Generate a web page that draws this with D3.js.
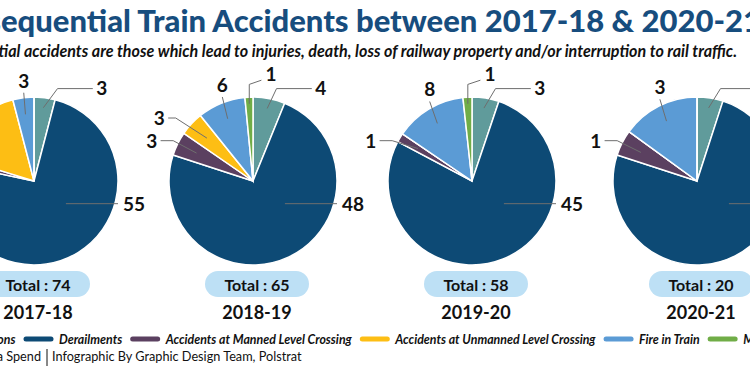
<!DOCTYPE html>
<html>
<head>
<meta charset="utf-8">
<script src="https://cdn.jsdelivr.net/npm/d3@7"></script>
<style>
  body { margin: 0; background: #fff; }
  svg { display: block; font-family: Lato, "Open Sans", sans-serif; }
</style>
</head>
<body>
<script>
const years = ["2017-18", "2018-19", "2019-20", "2020-21"];
const categories = ["Collisions", "Derailments", "Accidents at Manned Level Crossing",
    "Accidents at Unmanned Level Crossing", "Fire in Train", "Miscellaneous"];
const collisions = [3, 4, 3, 1];
const derailments = [55, 48, 45, 15];
const mannedLC = [1, 3, 1, 1];
const unmannedLC = [12, 3, 0, 0];
const fireInTrain = [3, 6, 8, 3];
const miscellaneous = [0, 1, 1, 0];
const totals = [74, 65, 58, 20];

const series = [collisions, derailments, mannedLC, unmannedLC, fireInTrain, miscellaneous];
const colors = ["#609b9b", "#0d4a75", "#5b4060", "#fdbe14", "#5b9bd5", "#70ad47"];

const width = 750;
const height = 375;

const svg = d3.select("body")
    .append("svg")
    .attr("width", width)
    .attr("height", height);

const color = d3.scaleOrdinal().domain(categories).range(colors);

//centre of each year's pie (the page is a crop of a wider infographic)
const panelX = d3.scaleOrdinal().domain(years).range([34, 253, 472, 697]);
const cy = 181;
const r = 84;

//title, pushed left so that the first letters fall off the page like the original
const titleFont = "31px";
const title = svg.append("text")
    .attr("y", 32)
    .attr("font-size", titleFont)
    .attr("font-weight", 900)
    .attr("fill", "#174d7e")
    .text("Consequential Train Accidents between 2017-18 & 2020-21");
const probe = svg.append("text").attr("font-size", titleFont).attr("font-weight", 900).text("Cons");
const consW = probe.node().getComputedTextLength();
probe.remove();
title.attr("x", 1 - consW);

svg.append("text")
    .attr("x", 737)
    .attr("y", 57)
    .attr("text-anchor", "end")
    .attr("font-size", "16.1px")
    .attr("font-weight", 700)
    .attr("font-style", "italic")
    .attr("fill", "#111")
    .text("Consequential accidents are those which lead to injuries, death, loss of railway property and/or interruption to rail traffic.");

const pie = d3.pie().sort(null).value(function(d) { return d.value; });
const arc = d3.arc().innerRadius(0).outerRadius(r);

function polar(cx, a, rad) {
    return [cx + rad * Math.sin(a), cy - rad * Math.cos(a)];
}

//leader line + label placement, one rule per category
function labelLayout(idx, cx, mid) {
    const top = 2 * Math.PI;
    if (idx === 0) {
        const y = cy - 1.1 * r;
        return { pts: [polar(cx, mid, 0.88 * r), [cx + 0.28 * r, y], [cx + 0.7 * r, y]],
                 tx: cx + 0.74 * r, ty: y, anchor: "start" };
    }
    if (idx === 1) {
        const y = cy + 0.27 * r;
        return { pts: [[cx + 0.38 * r, y], [cx + 1.0 * r, y]],
                 tx: cx + 1.06 * r, ty: y, anchor: "start" };
    }
    if (idx === 2) {
        const y = cy - 0.48 * r;
        return { pts: [[cx - 1.1 * r, y], [cx - 0.95 * r, y], polar(cx, mid, 0.75 * r)],
                 tx: cx - 1.14 * r, ty: y, anchor: "end" };
    }
    if (idx === 3) {
        const y = cy - 0.75 * r;
        return { pts: [[cx - 1.01 * r, y], [cx - 0.92 * r, y], polar(cx, mid, 0.75 * r)],
                 tx: cx - 1.05 * r, ty: y, anchor: "end" };
    }
    if (idx === 4) {
        const a = top - (top - mid) * 0.8;
        const p = polar(cx, a, 1.2 * r);
        return { pts: [polar(cx, mid, 0.8 * r), [p[0], p[1] + 12]],
                 tx: p[0], ty: p[1], anchor: "middle" };
    }
    const inner = polar(cx, mid, 0.92 * r);
    return { pts: [inner, [inner[0], cy - 1.15 * r], [cx + 0.1 * r, cy - 1.2 * r]],
             tx: cx + 0.15 * r, ty: cy - 1.27 * r, anchor: "start" };
}

years.forEach(function(year, yi) {
    const cx = panelX(year);
    const slices = categories.map(function(c, i) {
        return { cat: c, idx: i, value: series[i][yi] };
    });
    const arcs = pie(slices);

    const g = svg.append("g").attr("transform", "translate(" + cx + "," + cy + ")");
    g.selectAll("path")
        .data(arcs)
        .enter()
        .append("path")
        .attr("d", arc)
        .attr("fill", function(d) { return color(d.data.cat); })
        .attr("stroke", "#fff")
        .attr("stroke-width", 1.5);

    //labels
    arcs.filter(function(d) { return d.data.value > 0; }).forEach(function(d) {
        const mid = (d.startAngle + d.endAngle) / 2;
        const lay = labelLayout(d.data.idx, cx, mid);
        svg.append("path")
            .attr("d", d3.line()(lay.pts))
            .attr("fill", "none")
            .attr("stroke", "#6e6e6e")
            .attr("stroke-width", 1);
        svg.append("text")
            .attr("x", lay.tx)
            .attr("y", lay.ty)
            .attr("dy", "0.36em")
            .attr("text-anchor", lay.anchor)
            .attr("font-size", "19px")
            .attr("font-weight", 700)
            .attr("fill", "#111")
            .text(d.data.value);
    });

    //total pill
    const tx = cx + 4;
    svg.append("rect")
        .attr("x", tx - 52)
        .attr("y", 271)
        .attr("width", 104)
        .attr("height", 26)
        .attr("rx", 13)
        .attr("fill", "#bde0f5");
    svg.append("text")
        .attr("x", tx)
        .attr("y", 291)
        .attr("text-anchor", "middle")
        .attr("font-size", "16px")
        .attr("font-weight", 700)
        .attr("fill", "#111")
        .text("Total : " + totals[yi]);

    svg.append("text")
        .attr("x", tx)
        .attr("y", 319)
        .attr("text-anchor", "middle")
        .attr("font-size", "18px")
        .attr("font-weight", 700)
        .attr("fill", "#111")
        .text(year);
});

//legend, laid out left to right from measured text widths
const legend = svg.append("g").attr("transform", "translate(0,339)");
let lx = 0;
const items = [];
categories.forEach(function(c) {
    const it = legend.append("g");
    it.append("line")
        .attr("x1", 3).attr("x2", 28)
        .attr("stroke", color(c))
        .attr("stroke-width", 5)
        .attr("stroke-linecap", "round");
    const t = it.append("text")
        .attr("x", 36)
        .attr("y", 5)
        .attr("font-size", "12.35px")
        .attr("font-weight", 700)
        .attr("font-style", "italic")
        .attr("fill", "#111")
        .text(c);
    it.attr("transform", "translate(" + lx + ",0)");
    items.push({ g: it, x: lx });
    lx += 36 + t.node().getComputedTextLength() + 7.5;
});
//shift so Derailments swatch sits where it does in the original
const shift = 23 - items[1].x;
items.forEach(function(it) { it.g.attr("transform", "translate(" + (it.x + shift) + ",0)"); });

//source line
svg.append("text")
    .attr("x", 41)
    .attr("y", 361)
    .attr("text-anchor", "end")
    .attr("font-size", "12.7px")
    .attr("fill", "#111")
    .text("Source: India Spend");
svg.append("line")
    .attr("x1", 47).attr("x2", 47)
    .attr("y1", 349).attr("y2", 366)
    .attr("stroke", "#111")
    .attr("stroke-width", 1);
svg.append("text")
    .attr("x", 52)
    .attr("y", 361)
    .attr("font-size", "12.7px")
    .attr("fill", "#111")
    .text("Infographic By Graphic Design Team, Polstrat");
</script>
</body>
</html>
